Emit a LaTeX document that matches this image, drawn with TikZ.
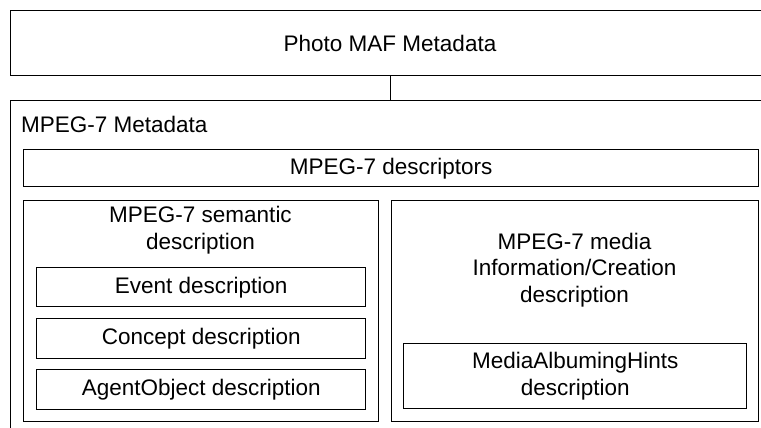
\documentclass[tikz,border=0pt]{standalone}
\usepackage{fontspec}
\setmainfont{Liberation Sans}
\begin{document}
\begin{tikzpicture}[x=1pt,y=-1pt,
  box/.style={draw=black, line width=1.4pt, rectangle, inner sep=0pt, anchor=north west},
  txt/.style={font=\fontsize{22.5}{26.8}\selectfont, align=center, inner sep=0pt, text=black}]
  \fill[white] (0,0) rectangle (761,428);
  \clip (0,0) rectangle (761,428);

  % top-level container and the metadata container (both run past the page edge)
  \node[box, minimum width=760pt, minimum height=65pt] (photo) at (10,10) {};
  \node[txt] (phototxt) at (390,43) {Photo MAF Metadata};
  \node[box, minimum width=760pt, minimum height=340pt] (meta) at (10,100) {};
  \node[txt, anchor=west] (metatxt) at (21,124) {MPEG-7 Metadata};
  \draw[line width=1.4pt] (photo.south) -- (meta.north);

  % descriptors bar
  \node[box, minimum width=735pt, minimum height=37pt, txt] (desc) at (23,149) {};
  \node[txt] (desctxt) at (desc.center) {MPEG-7 descriptors};

  % semantic description column
  \node[box, minimum width=355pt, minimum height=221pt] (sem) at (23,200) {};
  \node[txt] (semtxt) at (200.5,230) {MPEG-7 semantic\\description};
  \node[box, minimum width=329pt, minimum height=39pt] (event) at (36,267) {};
  \node[txt] at (event.center) {Event description};
  \node[box, minimum width=329pt, minimum height=40pt] (concept) at (36,318) {};
  \node[txt] at (concept.center) {Concept description};
  \node[box, minimum width=329pt, minimum height=40pt] (agent) at (36,369) {};
  \node[txt] at (agent.center) {AgentObject description};

  % media information / creation column
  \node[box, minimum width=367pt, minimum height=221pt] (media) at (391,200) {};
  \node[txt] (mediatxt) at (574.5,270) {MPEG-7 media\\Information/Creation\\description};
  \node[box, minimum width=343pt, minimum height=65pt] (hints) at (403,343) {};
  \node[txt] at (hints.center) {MediaAlbumingHints\\description};
\end{tikzpicture}
\end{document}
